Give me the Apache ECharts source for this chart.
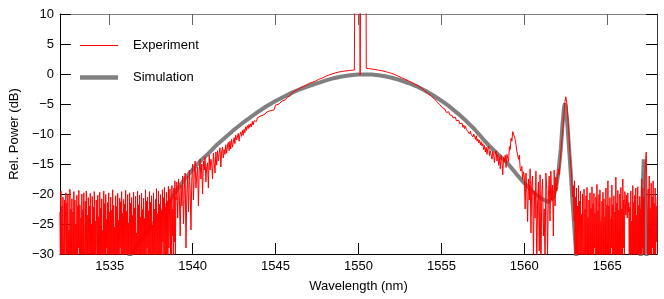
<!DOCTYPE html>
<html>
<head>
<meta charset="utf-8">
<script src="https://cdn.jsdelivr.net/npm/echarts@6/dist/echarts.min.js"></script>
<style>
html,body{margin:0;padding:0;background:#fff;}
#chart{width:664px;height:299px;}
</style>
</head>
<body>
<div id="chart"></div>
<script>
// ---- axis ticks ----
const xTicks = [1535, 1540, 1545, 1550, 1555, 1560, 1565];

// ---- Simulation (gray) ----
const simWavelength = [1532, 1533, 1534, 1535, 1535.5, 1536, 1536.5, 1537, 1537.5, 1538, 1538.5, 1539, 1539.5, 1540, 1540.5, 1541, 1541.5, 1542, 1542.5, 1543, 1543.5, 1544, 1544.5, 1545, 1545.5, 1546, 1546.5, 1547, 1547.5, 1548, 1548.5, 1549, 1549.5, 1550, 1550.4, 1550.8, 1551.2, 1551.6, 1552, 1552.5, 1553, 1553.5, 1554, 1554.5, 1555, 1555.5, 1556, 1556.5, 1557, 1557.5, 1558, 1558.5, 1559, 1559.5, 1560, 1560.5, 1561, 1561.4, 1561.7, 1561.9, 1562.05, 1562.2, 1562.3, 1562.4, 1562.45, 1562.5, 1562.6, 1562.7, 1562.8, 1562.9, 1563.0, 1563.1, 1563.2, 1563.5, 1564, 1565, 1566, 1566.8, 1567.0, 1567.1, 1567.2, 1567.3, 1567.4, 1567.6, 1568];
const simPower = [-52, -46, -41, -36, -33.5, -31.1, -29.2, -27.3, -25.4, -23.5, -21.6, -19.5, -17.6, -15.9, -14.4, -13.1, -11.7, -10.5, -9.3, -8.2, -7.2, -6.2, -5.3, -4.5, -3.8, -3.1, -2.5, -2.0, -1.55, -1.1, -0.7, -0.42, -0.22, -0.1, -0.07, -0.1, -0.2, -0.37, -0.62, -1.0, -1.5, -2.05, -2.75, -3.55, -4.45, -5.45, -6.6, -7.85, -9.2, -10.8, -12.3, -13.6, -14.9, -16.6, -18.2, -19.6, -20.7, -21.3, -20.8, -19.2, -16.5, -12.5, -8.5, -5.5, -4.9, -5.5, -8.5, -12.5, -16.5, -21, -25, -29, -33, -40, -45, -48, -45, -38, -32, -22, -14.2, -22, -34, -42, -48];

// ---- Experiment (red), sampled segments ----
// 1532.00 .. 1538.99, step 0.03
const expFloorLeftStart = 1532.0, expFloorLeftStep = 0.03;
const expFloorLeft = [
 -23, -34, -19.5, -31, -22, -37, -20.5, -29, -33, -21, -36, -24, -19.8,
 -32, -21.5, -38, -20, -30, -26, -35, -19.2, -33, -22.5, -31, -20.8, -39,
 -23, -30.5, -19.6, -34, -21, -37, -25, -32, -20.2, -35, -22, -29, -19.4,
 -36, -21.8, -33, -24, -31, -20, -38, -22.6, -30, -19.8, -34, -27, -21.2,
 -35, -19.5, -32, -23.5, -37, -20.6, -30, -22, -33, -19.9, -36, -25, -31,
 -20.4, -34, -22.2, -39, -19.6, -31, -24.5, -33, -21, -28, -35, -20.2, -32,
 -23.8, -36, -19.7, -30, -22.4, -34, -20.8, -37, -26, -31, -19.5, -33, -21.6,
 -38, -20.1, -29, -24.2, -35, -21.4, -32, -19.8, -36, -23, -30, -20.5, -34,
 -22.7, -31, -19.3, -37, -21.9, -33, -25.5, -30, -20.3, -35, -22.1, -38, -19.9,
 -32, -24.4, -34, -20.7, -29, -21.3, -36, -19.6, -31, -23.2, -39, -20.9, -33,
 -21.7, -30, -19.4, -35, -22.9, -32, -20.1, -37, -24.8, -31, -19.8, -34, -21.5,
 -36, -20.6, -33, -23.6, -30, -19.7, -38, -22.3, -32, -20.4, -35, -26.5, -31,
 -19.5, -34, -21.8, -37, -20.2, -30, -23.9, -33, -19.9, -36, -22.6, -31, -20.7,
 -35, -24.1, -32, -19.3, -38, -21.2, -29, -20.5, -34, -22.8, -31, -19.6, -36,
 -21.4, -33, -20.3, -30, -25.2, -37, -19.8, -32, -22.5, -35, -20.9, -31, -19.1,
 -34, -23.3, -30, -19.5, -36, -21.7, -33, -20.1, -38, -22.9, -31, -19.3, -28,
 -20.6, -35, -18.9, -32, -22.2, -30, -19.7, -37, -21.3, -33, -18.7, -29, -24,
 -19.2, -31, -20.8, -34, -18.6, -27, -22.5, -32, -19.0, -28, -17.8, -30, -20.4
];
// 1539.00 .. 1543.95, step 0.05
const expRiseLeftStart = 1539.0, expRiseLeftStep = 0.05;
const expRiseLeft = [
 -21, -18, -24, -17.5, -20.5, -27, -18.5, -22, -17, -25,
 -19, -16.5, -29, -20, -17, -23, -16, -19.5, -26, -17.5,
 -15, -21, -16.5, -14.5, -19, -17, -15.5, -22, -16, -14.2,
 -17.5, -15, -20, -14.5, -16, -13.8, -18, -15.5, -14.8, -19,
 -13.5, -16, -14.2, -15, -17.5, -13.2, -14.8, -16.5, -13, -15.2,
 -12.8, -14.5, -13.2, -12.3, -15.5, -13, -12.2, -14, -12.6, -13.4,
 -11.8, -13.2, -12, -11.4, -12.8, -11.2, -12.5, -10.9, -12.2, -11.5,
 -10.6, -11.6, -10.2, -11, -10.5, -9.9, -11.2, -10.1, -9.7, -10.4,
 -9.4, -10.2, -9.2, -9.8, -8.8, -9.4, -8.6, -9.1, -8.4, -8.9,
 -8.3, -8.8, -7.9, -8.5, -7.8, -8.1, -7.5, -7.9, -7.3, -7.6
];
// 1544.0 .. 1549.7, step 0.1
const expTopLeftStart = 1544.0, expTopLeftStep = 0.1;
const expTopLeft = [
 -7.3, -7.0, -7.2, -6.8, -6.9, -6.3, -6.5, -6.1, -5.9, -6.0,
 -5.2, -4.9, -5.0, -4.7, -4.5, -4.2, -4.3, -3.9, -3.8, -3.6,
 -3.1, -2.9, -2.8, -2.6, -2.5, -2.3, -2.2, -2.0, -1.9, -1.8,
 -1.6, -1.5, -1.4, -1.3, -1.2, -1.0, -0.9, -0.8, -0.7, -0.6,
 -0.4, -0.3, -0.2, -0.1, 0.0, 0.1, 0.18, 0.26, 0.32, 0.38,
 0.42, 0.46, 0.5, 0.53, 0.57, 0.6, 0.63, 0.65
];
// laser line around 1550 nm
const expLineWavelength = [1549.75, 1549.78, 1549.80, 1550.05, 1550.10, 1550.15, 1550.45, 1550.47];
const expLinePower = [0.66, 0.67, 25, 25, -0.15, 25, 25, 0.95];
// 1550.5 .. 1554.9, step 0.1
const expTopRightStart = 1550.5, expTopRightStep = 0.1;
const expTopRight = [
 0.93, 0.9, 0.87, 0.84, 0.8,
 0.75, 0.7, 0.65, 0.6, 0.55, 0.5, 0.42, 0.34, 0.26, 0.18,
 0.1, 0.0, -0.1, -0.22, -0.36, -0.5, -0.62, -0.75, -0.88, -1.0,
 -1.12, -1.25, -1.38, -1.52, -1.66, -1.82, -1.98, -2.15, -2.34, -2.55,
 -2.8, -3.05, -3.25, -3.5, -3.72, -4.05, -4.2, -4.55, -4.75, -5.1
];
// 1555.00 .. 1559.95, step 0.05
const expFallRightStart = 1555.0, expFallRightStep = 0.05;
const expFallRight = [
 -5.3, -5.6, -5.5, -5.9, -5.8, -6.1, -6.4, -6.1, -6.6, -6.3,
 -6.8, -6.5, -7.1, -6.9, -7.3, -7.0, -7.6, -7.2, -7.8, -7.5,
 -7.9, -7.7, -8.3, -8.0, -8.6, -8.2, -8.9, -8.5, -9.1, -8.7,
 -9.2, -9.0, -9.6, -9.3, -10.0, -9.5, -10.1, -9.8, -10.5, -10.0,
 -10.4, -10.9, -10.3, -11.2, -10.8, -11.5, -11.0, -11.8, -11.3, -12.0,
 -11.6, -12.6, -11.9, -13.0, -12.2, -13.4, -12.4, -12.0, -13.6, -12.8,
 -13.0, -14.2, -12.9, -13.6, -14.8, -13.2, -12.8, -14.5, -13.4, -15.2,
 -13.8, -15.8, -13.6, -14.4, -16.8, -13.9, -14.6, -13.5, -15.6, -13.4,
 -13.2, -14.6, -12.1, -12.6, -10.7, -11.2, -9.6, -9.3, -9.8, -10.9,
 -11.8, -12.9, -13.6, -14.2, -13.5, -15.8, -16.2, -15.4, -17.6, -16.3
];
// 1560.00 .. 1562.95, step 0.05
const expMidStart = 1560.0, expMidStep = 0.05;
const expMid = [
 -17.2, -22.5, -16.5, -19.8, -24.6, -17.5, -21.0, -15.8, -26.5, -18.3,
 -17.0, -31, -19.5, -24.0, -16.2, -33, -21.5, -18.0, -29.5, -16.8,
 -35, -20.0, -17.5, -27.0, -22.5, -32, -16.5, -19.0, -30, -20.5,
 -17.0, -24.5, -16.2, -21.0, -18.5, -27.0, -16.0, -22.0, -17.2, -19.5,
 -17.5, -15.8, -16.8, -15.0, -13.2, -11.5, -9.8, -8.2, -6.3, -4.6,
 -3.8, -4.5, -6.2, -8.2, -10.6, -13.2, -15.2, -16.8, -20.5, -18.6
];
// 1563.00 .. 1568.01, step 0.03
const expFloorRightStart = 1563.0, expFloorRightStep = 0.03;
const expFloorRight = [
 -24.5, -17.8, -31, -20.5, -35, -19.0, -33, -22.0, -38, -18.6, -30, -21.2,
 -34, -19.5, -32, -23.4, -36, -20.0, -29, -33, -19.2, -37, -22.6, -31,
 -20.3, -35, -18.9, -32, -24, -30, -21.0, -38, -19.8, -33, -22.4, -36,
 -18.8, -31, -21.6, -35, -19.9, -29, -23.2, -37, -20.5, -32, -18.4, -34,
 -22.8, -30, -20.1, -36, -19.3, -33, -24.6, -31, -21.2, -38, -19.7, -32,
 -20.8, -35, -23.8, -30, -19.0, -34, -21.9, -37, -17.8, -31, -22.0, -36,
 -20.6, -33, -24.2, -29, -18.5, -35, -21.8, -32, -20.3, -38, -23.0, -30,
 -17.2, -34, -21.5, -31, -19.4, -36, -22.7, -33, -20.0, -30, -18.9, -35,
 -22.5, -31, -17.5, -29, -21.0, -34, -19.6, -21.5, -23.5, -20.2, -22.8, -24.0,
 -19.8, -23.0, -21.4, -36, -22.2, -31, -19.5, -34, -24.5, -30, -18.6, -33,
 -21.4, -36, -20.2, -30, -19.0, -35, -23.5, -32, -18.8, -37, -21.9, -31,
 -20.4, -33, -22.5, -31, -17.5, -29, -19.0, -34, -20.6, -30, -18.2, -15.5,
 -14.0, -13.0, -17.5, -24, -34, -19.2, -32, -17.0, -33, -22.4, -30, -18.2,
 -31, -20.5, -29, -17.8, -34, -21.6, -30, -19.0, -35, -22.0, -28, -20.5
];

function seg(start, step, vals) {
  return vals.map((v, i) => [+(start + i * step).toFixed(3), v]);
}
const expData = [].concat(
  seg(expFloorLeftStart, expFloorLeftStep, expFloorLeft),
  seg(expRiseLeftStart, expRiseLeftStep, expRiseLeft),
  seg(expTopLeftStart, expTopLeftStep, expTopLeft),
  expLineWavelength.map((w, i) => [w, expLinePower[i]]),
  seg(expTopRightStart, expTopRightStep, expTopRight),
  seg(expFallRightStart, expFallRightStep, expFallRight),
  seg(expMidStart, expMidStep, expMid),
  seg(expFloorRightStart, expFloorRightStep, expFloorRight)
);
const simData = simWavelength.map((w, i) => [w, simPower[i]]);

const FONT = '"Liberation Sans", Arial, Helvetica, sans-serif';
const minus = v => String(v).replace('-', '\u2212');

const chart = echarts.init(document.getElementById('chart'), null, {renderer: 'canvas'});
chart.setOption({
  animation: false,
  backgroundColor: '#ffffff',
  textStyle: {fontFamily: FONT},
  grid: {left: 58, right: 7, top: 14, bottom: 45, containLabel: false},
  legend: {
    orient: 'vertical',
    left: 75,
    top: 34,
    itemWidth: 38,
    itemHeight: 14,
    itemGap: 19,
    symbolKeepAspect: true,
    data: [
      {name: 'Experiment', icon: 'path://M0,0L38,0L38,1.2L0,1.2Z'},
      {name: 'Simulation', icon: 'path://M0,0L38,0L38,4.5L0,4.5Z'}
    ],
    textStyle: {fontFamily: FONT, fontSize: 13, color: '#000', padding: [0, 0, 0, 10]}
  },
  xAxis: [{
    type: 'value', min: 1532, max: 1568, position: 'bottom',
    name: 'Wavelength (nm)', nameLocation: 'middle', nameGap: 26,
    nameTextStyle: {fontFamily: FONT, fontSize: 13, color: '#000'},
    axisLine: {onZero: false, lineStyle: {color: '#000', width: 1}},
    axisTick: {inside: true, length: 11, customValues: xTicks, lineStyle: {color: '#000'}},
    axisLabel: {customValues: xTicks, margin: 6, fontFamily: FONT, fontSize: 13, color: '#000', formatter: v => String(v)},
    splitLine: {show: false}
  }, {
    type: 'value', min: 1532, max: 1568, position: 'top',
    axisLine: {onZero: false, lineStyle: {color: '#808080', width: 1}},
    axisTick: {inside: true, length: 11, customValues: xTicks, lineStyle: {color: '#666'}},
    axisLabel: {show: false},
    splitLine: {show: false}
  }],
  yAxis: [{
    type: 'value', min: -30, max: 10, interval: 5, position: 'left',
    name: 'Rel. Power (dB)', nameLocation: 'middle', nameGap: 36,
    nameTextStyle: {fontFamily: FONT, fontSize: 13, color: '#000'},
    axisLine: {show: true, onZero: false, lineStyle: {color: '#000', width: 1}},
    axisTick: {show: true, inside: true, length: 11, lineStyle: {color: '#000'}},
    axisLabel: {margin: 6, fontFamily: FONT, fontSize: 13, color: '#000', formatter: minus},
    splitLine: {show: false}
  }, {
    type: 'value', min: -30, max: 10, interval: 5, position: 'right',
    axisLine: {show: true, onZero: false, lineStyle: {color: '#333', width: 1}},
    axisTick: {show: true, inside: true, length: 11, lineStyle: {color: '#000'}},
    axisLabel: {show: false},
    splitLine: {show: false}
  }],
  series: [{
    name: 'Simulation', type: 'line', data: simData,
    xAxisIndex: 0, yAxisIndex: 0,
    showSymbol: false, symbol: 'none', clip: true,
    color: '#808080',
    lineStyle: {color: '#808080', width: 4},
    z: 2
  }, {
    name: 'Experiment', type: 'line', data: expData,
    xAxisIndex: 0, yAxisIndex: 0,
    showSymbol: false, symbol: 'none', clip: true, sampling: null,
    color: '#ff0000',
    lineStyle: {color: '#ff0000', width: 1},
    z: 3
  }]
});
</script>
</body>
</html>
